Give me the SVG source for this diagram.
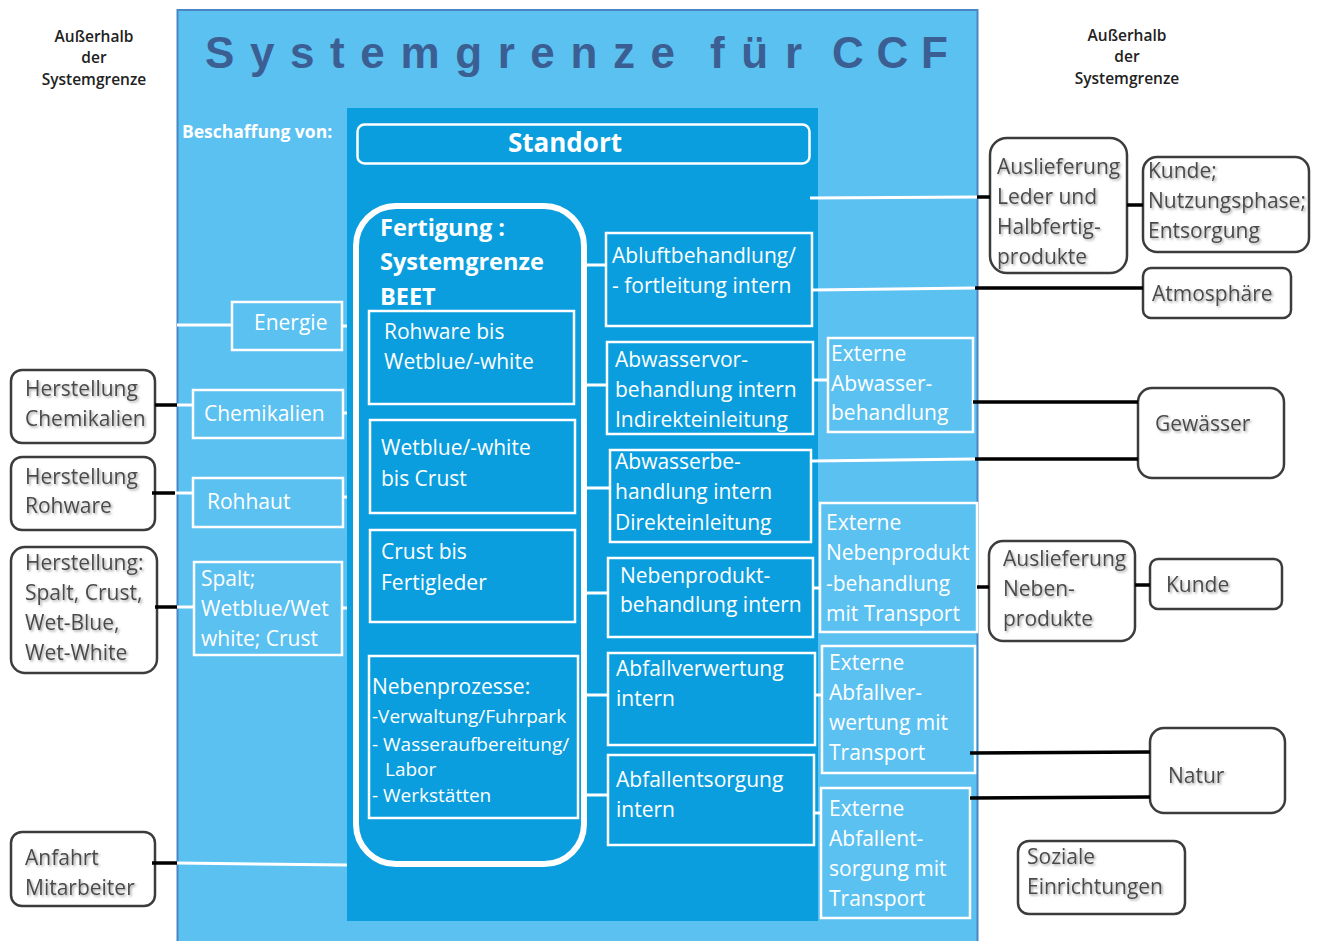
<svg xmlns="http://www.w3.org/2000/svg" width="1320" height="941" viewBox="0 0 1320 941">
<defs>
<filter id="sh" x="-10%" y="-20%" width="130%" height="150%">
<feDropShadow dx="1.5" dy="1.5" stdDeviation="0.8" flood-color="#9a9a9a" flood-opacity="0.9"/>
</filter>
</defs>
<style>
text{font-family:"Open Sans","Liberation Sans",sans-serif;}
.ob{fill:#fff;stroke:#3c3c3c;stroke-width:2.5;}
.wb{fill:none;stroke:#fff;stroke-width:2.5;}
.t{fill:#fff;font-size:21px;}
.ts{fill:#fff;font-size:19px;}
.tb{fill:#fff;font-weight:bold;}
.ti{font-family:"Liberation Sans",sans-serif;font-size:44px;font-weight:bold;fill:#3b5e93;}
.g{fill:#4a4a4a;font-size:21px;filter:url(#sh);}
.hd{fill:#222;font-size:15.5px;font-weight:600;text-anchor:middle;}
.wl{stroke:#fff;stroke-width:3;fill:none;}
.bl{stroke:#000;stroke-width:3.5;fill:none;}
</style>
<rect width="1320" height="941" fill="#fff"/>

<g id="outside-left-label">
<text class="hd" x="94" y="42">Außerhalb</text>
<text class="hd" x="94" y="63">der</text>
<text class="hd" x="94" y="85">Systemgrenze</text>
</g>
<g id="outside-right-label">
<text class="hd" x="1127" y="41">Außerhalb</text>
<text class="hd" x="1127" y="62">der</text>
<text class="hd" x="1127" y="84">Systemgrenze</text>
</g>

<g id="systemgrenze-ccf">
<rect x="177.5" y="10" width="800" height="940" fill="#5bc1f1" stroke="#4a86c4" stroke-width="2"/>
<text class="ti" x="205" y="68" textLength="470" lengthAdjust="spacing">Systemgrenze</text>
<text class="ti" x="710" y="68" textLength="92" lengthAdjust="spacing">für</text>
<text class="ti" x="832" y="68" textLength="116" lengthAdjust="spacing">CCF</text>
<text class="tb" x="182" y="138" style="font-size:17.5px;">Beschaffung von:</text>
</g>

<g id="standort-area">
<rect x="347" y="108" width="471" height="813" fill="#0a9ede"/>
</g>

<g id="standort">
<rect x="357.5" y="124.5" width="452" height="39" rx="7" class="wb" stroke-width="3"/>
<text class="tb" x="565" y="152" text-anchor="middle" style="font-size:26px;">Standort</text>
</g>

<g id="fertigung">
<rect x="356" y="206" width="228" height="658" rx="40" fill="none" stroke="#fff" stroke-width="6"/>
<text class="tb" x="380" y="236" style="font-size:23.5px;">Fertigung :</text>
<text class="tb" x="380" y="270" style="font-size:23.5px;">Systemgrenze</text>
<text class="tb" x="380" y="305" style="font-size:23.5px;">BEET</text>
</g>

<g id="rohware">
<rect class="wb" x="369" y="311" width="205" height="93"/>
<text class="t" x="384" y="339">Rohware bis</text>
<text class="t" x="384" y="369">Wetblue/-white</text>
</g>
<g id="wetblue-crust">
<rect class="wb" x="370" y="420" width="205" height="93"/>
<text class="t" x="381" y="455">Wetblue/-white</text>
<text class="t" x="381" y="486">bis  Crust</text>
</g>
<g id="crust-fertigleder">
<rect class="wb" x="370" y="530" width="205" height="92"/>
<text class="t" x="381" y="559">Crust bis</text>
<text class="t" x="381" y="590">Fertigleder</text>
</g>
<g id="nebenprozesse">
<rect class="wb" x="369" y="656" width="209" height="162"/>
<text class="t" x="372" y="694">Nebenprozesse:</text>
<text class="ts" x="372" y="723">-Verwaltung/Fuhrpark</text>
<text class="ts" x="372" y="751">- Wasseraufbereitung/</text>
<text class="ts" x="385" y="776">Labor</text>
<text class="ts" x="372" y="802">- Werkstätten</text>
</g>

<g id="abluft">
<rect class="wb" x="606" y="233" width="206" height="93"/>
<text class="t" x="612" y="263">Abluftbehandlung/</text>
<text class="t" x="612" y="293">- fortleitung intern</text>
</g>
<g id="abwasservor">
<rect class="wb" x="607" y="342" width="206" height="92"/>
<text class="t" x="615" y="367">Abwasservor-</text>
<text class="t" x="615" y="397">behandlung intern</text>
<text class="t" x="615" y="427">Indirekteinleitung</text>
</g>
<g id="abwasserbe">
<rect class="wb" x="610" y="450" width="201" height="92"/>
<text class="t" x="615" y="469">Abwasserbe-</text>
<text class="t" x="615" y="499">handlung intern</text>
<text class="t" x="615" y="530">Direkteinleitung</text>
</g>
<g id="nebenprodukt">
<rect class="wb" x="608" y="558" width="205" height="79"/>
<text class="t" x="620" y="583">Nebenprodukt-</text>
<text class="t" x="620" y="612">behandlung intern</text>
</g>
<g id="abfallverwertung">
<rect class="wb" x="608" y="653" width="207" height="92"/>
<text class="t" x="616" y="676">Abfallverwertung</text>
<text class="t" x="616" y="706">intern</text>
</g>
<g id="abfallentsorgung">
<rect class="wb" x="608" y="755" width="206" height="90"/>
<text class="t" x="616" y="787">Abfallentsorgung</text>
<text class="t" x="616" y="817">intern</text>
</g>

<g id="energie">
<rect class="wb" x="232" y="302" width="110" height="48"/>
<text class="t" x="254" y="330">Energie</text>
</g>
<g id="chemikalien">
<rect class="wb" x="193" y="390" width="150" height="48"/>
<text class="t" x="204" y="421">Chemikalien</text>
</g>
<g id="rohhaut">
<rect class="wb" x="193" y="478" width="150" height="49"/>
<text class="t" x="207" y="509">Rohhaut</text>
</g>
<g id="spalt">
<rect class="wb" x="194" y="562" width="148" height="93"/>
<text class="t" x="201" y="586">Spalt;</text>
<text class="t" x="201" y="616">Wetblue/Wet</text>
<text class="t" x="201" y="646">white; Crust</text>
</g>

<g id="ext-abwasser">
<rect class="wb" x="828" y="338" width="145" height="94"/>
<text class="t" x="831" y="361">Externe</text>
<text class="t" x="831" y="391">Abwasser-</text>
<text class="t" x="831" y="420">behandlung</text>
</g>
<g id="ext-nebenprodukt">
<rect class="wb" x="820" y="503" width="157" height="129"/>
<text class="t" x="826" y="530">Externe</text>
<text class="t" x="826" y="560">Nebenprodukt</text>
<text class="t" x="826" y="591">-behandlung</text>
<text class="t" x="826" y="621">mit Transport</text>
</g>
<g id="ext-abfallverwertung">
<rect class="wb" x="822" y="646" width="153" height="127"/>
<text class="t" x="829" y="670">Externe</text>
<text class="t" x="829" y="700">Abfallver-</text>
<text class="t" x="829" y="730">wertung mit</text>
<text class="t" x="829" y="760">Transport</text>
</g>
<g id="ext-abfallentsorgung">
<rect class="wb" x="821" y="788" width="149" height="130"/>
<text class="t" x="829" y="816">Externe</text>
<text class="t" x="829" y="846">Abfallent-</text>
<text class="t" x="829" y="876">sorgung mit</text>
<text class="t" x="829" y="906">Transport</text>
</g>

<g id="herstellung-chemikalien">
<rect class="ob" x="11" y="370" width="144" height="73" rx="11"/>
<text class="g" x="25" y="396">Herstellung</text>
<text class="g" x="25" y="426">Chemikalien</text>
</g>
<g id="herstellung-rohware">
<rect class="ob" x="11" y="457" width="144" height="73" rx="11"/>
<text class="g" x="25" y="484">Herstellung</text>
<text class="g" x="25" y="513">Rohware</text>
</g>
<g id="herstellung-spalt">
<rect class="ob" x="11" y="547" width="146" height="126" rx="14"/>
<text class="g" x="25" y="570">Herstellung:</text>
<text class="g" x="25" y="600">Spalt, Crust,</text>
<text class="g" x="25" y="630">Wet-Blue,</text>
<text class="g" x="25" y="660">Wet-White</text>
</g>
<g id="anfahrt-mitarbeiter">
<rect class="ob" x="11" y="832" width="144" height="74" rx="11"/>
<text class="g" x="25" y="865">Anfahrt</text>
<text class="g" x="25" y="895">Mitarbeiter</text>
</g>

<g id="auslieferung-leder">
<rect class="ob" x="990" y="138" width="137" height="135" rx="17"/>
<text class="g" x="997" y="174">Auslieferung</text>
<text class="g" x="997" y="204">Leder und</text>
<text class="g" x="997" y="234">Halbfertig-</text>
<text class="g" x="997" y="264">produkte</text>
</g>
<g id="kunde-nutzung">
<rect class="ob" x="1143" y="157" width="166" height="95" rx="14"/>
<text class="g" x="1148" y="178">Kunde;</text>
<text class="g" x="1148" y="208">Nutzungsphase;</text>
<text class="g" x="1148" y="238">Entsorgung</text>
</g>
<g id="atmosphaere">
<rect class="ob" x="1143" y="268" width="148" height="50" rx="8"/>
<text class="g" x="1152" y="301">Atmosphäre</text>
</g>
<g id="gewaesser">
<rect class="ob" x="1138" y="388" width="146" height="90" rx="14"/>
<text class="g" x="1155" y="431">Gewässer</text>
</g>
<g id="auslieferung-nebenprodukte">
<rect class="ob" x="989" y="541" width="146" height="100" rx="14"/>
<text class="g" x="1003" y="566">Auslieferung</text>
<text class="g" x="1003" y="596">Neben-</text>
<text class="g" x="1003" y="626">produkte</text>
</g>
<g id="kunde">
<rect class="ob" x="1150" y="559" width="132" height="50" rx="8"/>
<text class="g" x="1166" y="592">Kunde</text>
</g>
<g id="natur">
<rect class="ob" x="1150" y="728" width="135" height="85" rx="14"/>
<text class="g" x="1168" y="783">Natur</text>
</g>
<g id="soziale-einrichtungen">
<rect class="ob" x="1018" y="841" width="167" height="73" rx="11"/>
<text class="g" x="1027" y="864">Soziale</text>
<text class="g" x="1027" y="894">Einrichtungen</text>
</g>

<g id="connectors">
<path class="wl" d="M177,325H232 M342,326H347 M177,405H193 M343,413H347 M175,493H193 M343,497H347 M177,607H194 M342,608H347 M177,863L347,865"/>
<path class="wl" d="M587,265H606 M587,385H607 M587,488H610 M587,593H608 M587,695H608 M587,795H608"/>
<path class="wl" d="M813,380H828 M813,588H820 M815,695H822 M814,813H821"/>
<path class="wl" d="M810,198L978,197 M812,290L975,288 M812,461L975,459"/>
<path class="bl" d="M155,405H177 M152,493H175 M155,607H177 M152,863H177"/>
<path class="bl" d="M977,197H990 M1127,205H1143 M975,288H1143 M973,402H1138 M975,459H1138 M977,587H989 M1135,585H1150 M970,753L1150,752 M970,798L1150,797"/>
</g>
</svg>
